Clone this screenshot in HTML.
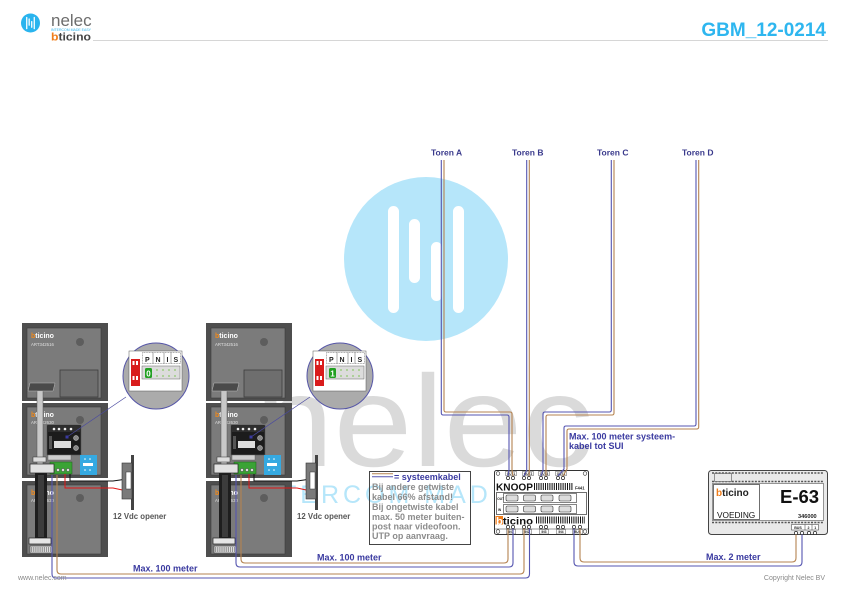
<!DOCTYPE html>
<html><head><meta charset="utf-8">
<style>
html,body{margin:0;padding:0;background:#fff;}
svg{display:block;}
text{font-family:"Liberation Sans",Arial,sans-serif;}
</style></head>
<body>
<svg width="841" height="595" viewBox="0 0 841 595" xmlns="http://www.w3.org/2000/svg">
<rect width="841" height="595" fill="#fff"/>

<!-- HEADER -->
<g transform="translate(30.5,23) scale(0.116)">
  <circle r="82" fill="#2ab4ee"/>
  <rect x="-38" y="-53" width="11" height="107" rx="5.5" fill="#fff"/>
  <rect x="-17" y="-40" width="11" height="64" rx="5.5" fill="#fff"/>
  <rect x="5" y="-17" width="11" height="59" rx="5.5" fill="#fff"/>
  <rect x="27" y="-53" width="11" height="107" rx="5.5" fill="#fff"/>
</g>
<text x="51" y="26" font-size="17" fill="#6d6d6d">nelec</text>
<text x="51" y="30.8" font-size="3.3" fill="#2ab4ee" textLength="40" lengthAdjust="spacingAndGlyphs">INTERCOM MADE EASY</text>
<text x="51" y="40.5" font-size="11" font-weight="bold" fill="#444" textLength="40" lengthAdjust="spacingAndGlyphs"><tspan fill="#f07d1a">b</tspan>ticino</text>
<line x1="93" y1="40.5" x2="828" y2="40.5" stroke="#d6d6d6" stroke-width="1"/>
<text x="826" y="36" font-size="19" font-weight="bold" fill="#2eb6ef" text-anchor="end">GBM_12-0214</text>

<!-- WATERMARK -->
<g transform="translate(426,259)">
  <circle r="82" fill="#b6e6fa"/>
  <rect x="-38" y="-53" width="11" height="107" rx="5.5" fill="#fff"/>
  <rect x="-17" y="-40" width="11" height="64" rx="5.5" fill="#fff"/>
  <rect x="5" y="-17" width="11" height="59" rx="5.5" fill="#fff"/>
  <rect x="27" y="-53" width="11" height="107" rx="5.5" fill="#fff"/>
</g>
<text x="255" y="466" font-size="130" fill="#dadada" textLength="338" lengthAdjust="spacingAndGlyphs">nelec</text>
<text x="248" y="503" font-size="25" fill="#b6e6fa" letter-spacing="4">INTERCOM MADE</text>

<!-- LEFT DEVICE -->
<g>
  <rect x="22" y="323" width="86" height="78" fill="#4e4e4e"/>
  <rect x="27" y="328" width="74" height="70" fill="#7b7b7b" stroke="#3c3c3c" stroke-width="0.6"/>
  <text x="31" y="338" font-size="7" font-weight="bold" fill="#fff"><tspan fill="#f08a1c">b</tspan>ticino</text>
  <text x="31" y="346" font-size="4.3" fill="#e0e0e0">ART342516</text>
  <circle cx="80" cy="342" r="4" fill="#5d5d5d"/>
  <rect x="60" y="370" width="38" height="27" fill="#6e6e6e" stroke="#3c3c3c" stroke-width="0.8"/>

  <rect x="22" y="403" width="86" height="75" fill="#4e4e4e"/>
  <rect x="27" y="407" width="74" height="68" fill="#7b7b7b" stroke="#3c3c3c" stroke-width="0.6"/>
  <text x="31" y="417" font-size="7" font-weight="bold" fill="#fff"><tspan fill="#f08a1c">b</tspan>ticino</text>
  <text x="31" y="424" font-size="4.3" fill="#e0e0e0">ART342630</text>
  <circle cx="80" cy="420" r="4" fill="#5d5d5d"/>
  <rect x="47" y="425" width="34" height="30" fill="#1c1c1c" stroke="#555" stroke-width="0.6"/>
  <rect x="48" y="426" width="32" height="6" fill="#2e2e2e"/>
  <circle cx="54" cy="429" r="1.3" fill="#eee"/><circle cx="59" cy="429" r="1.3" fill="#eee"/>
  <circle cx="65" cy="429" r="1.3" fill="#eee"/><circle cx="71" cy="429" r="1.3" fill="#eee"/>
  <rect x="49" y="436" width="3" height="13" fill="#555"/>
  <rect x="54" y="441" width="17" height="7" fill="#dedede"/>
  <circle cx="76" cy="438" r="2.5" fill="#888" stroke="#ccc" stroke-width="0.5"/>
  <circle cx="76" cy="448" r="2.5" fill="#888" stroke="#ccc" stroke-width="0.5"/>
  <rect x="48" y="455" width="23" height="5" fill="#cfcfcf" stroke="#555" stroke-width="0.4"/>
  <rect x="50" y="462" width="22" height="12" fill="#3aa335" stroke="#1d5e1a" stroke-width="0.5"/>
  <circle cx="53" cy="470" r="1.6" fill="#ddd" stroke="#222" stroke-width="0.4"/>
  <circle cx="58" cy="470" r="1.6" fill="#ddd" stroke="#222" stroke-width="0.4"/>
  <circle cx="63" cy="470" r="1.6" fill="#ddd" stroke="#222" stroke-width="0.4"/>
  <circle cx="68" cy="470" r="1.6" fill="#ddd" stroke="#222" stroke-width="0.4"/>
  <rect x="80" y="455" width="17" height="20" fill="#35a9e1"/>
  <rect x="83" y="463" width="10" height="3" fill="#fff"/>
  <circle cx="85" cy="459" r="0.8" fill="#fff"/><circle cx="90" cy="459" r="0.8" fill="#fff"/>
  <circle cx="85" cy="470" r="0.8" fill="#fff"/><circle cx="90" cy="470" r="0.8" fill="#fff"/>

  <rect x="22" y="481" width="86" height="76" fill="#4e4e4e"/>
  <rect x="27" y="485" width="74" height="69" fill="#7b7b7b" stroke="#3c3c3c" stroke-width="0.6"/>
  <text x="31" y="495" font-size="7" font-weight="bold" fill="#fff"><tspan fill="#f08a1c">b</tspan>ticino</text>
  <text x="31" y="502" font-size="4.3" fill="#e0e0e0">ART342630</text>
  <circle cx="80" cy="498" r="4" fill="#5d5d5d"/>

  <rect x="37" y="388" width="6" height="78" fill="#c8c8c8" stroke="#555" stroke-width="0.5"/>
  <polygon points="30,383 55,383 53,391 28,391" fill="#4a4a4a" stroke="#bbb" stroke-width="0.5"/>
  <rect x="33" y="457" width="13" height="5" fill="#ddd" stroke="#333" stroke-width="0.5"/>
  <rect x="35" y="473" width="12" height="66" fill="#1e1e1e"/>
  <rect x="38" y="475" width="6" height="62" fill="#3c3c3c"/>
  <rect x="30" y="464" width="24" height="9" fill="#e2e2e2" stroke="#222" stroke-width="0.7"/>
  <rect x="29" y="538" width="22" height="6" fill="#e6e6e6" stroke="#222" stroke-width="0.7"/>
  <rect x="30" y="546" width="22" height="7" fill="#ddd" stroke="#444" stroke-width="0.6"/>
  <line x1="31" y1="549.5" x2="51" y2="549.5" stroke="#777" stroke-width="5" stroke-dasharray="0.7 1.2"/>

  <path d="M70,474 V481 H113 L127,479" fill="none" stroke="#111" stroke-width="1"/>
  <path d="M65,474 V488 H113 L127,491" fill="none" stroke="#e01515" stroke-width="1"/>
  <rect x="131" y="455" width="3" height="55" fill="#444"/>
  <rect x="122" y="463" width="10" height="36" fill="#7a7a7a" stroke="#333" stroke-width="0.6"/>
  <rect x="126" y="472" width="5" height="17" fill="#fff" stroke="#333" stroke-width="0.5"/>
  <text x="113" y="519" font-size="7.8" font-weight="bold" fill="#555">12 Vdc opener</text>

  <line x1="126" y1="397" x2="67" y2="437" stroke="#4a4aa0" stroke-width="0.7"/>
  <rect x="65.5" y="435.5" width="3" height="3" fill="#3a3aa0"/>
  <circle cx="156" cy="376" r="33" fill="#ababab" stroke="#5656a8" stroke-width="1"/>
  <rect x="129" y="351" width="53" height="40" fill="#fff" stroke="#555" stroke-width="0.5"/>
  <rect x="131" y="359" width="9" height="27" fill="#d91c1c"/>
  <rect x="132.5" y="361" width="2" height="4" fill="#fff"/><rect x="136" y="361" width="2" height="4" fill="#fff"/>
  <rect x="132.5" y="376" width="2" height="4" fill="#fff"/><rect x="136" y="376" width="2" height="4" fill="#fff"/>
  <rect x="142.5" y="352.5" width="38" height="11" fill="#fff" stroke="#555" stroke-width="0.5" stroke-dasharray="1 0.6"/>
  <line x1="153" y1="352.5" x2="153" y2="363.5" stroke="#555" stroke-width="0.5"/>
  <line x1="164" y1="352.5" x2="164" y2="363.5" stroke="#555" stroke-width="0.5"/>
  <line x1="171" y1="352.5" x2="171" y2="363.5" stroke="#555" stroke-width="0.5"/>
  <text x="145" y="362" font-size="7" font-weight="bold" fill="#222">P</text>
  <text x="155.5" y="362" font-size="7" font-weight="bold" fill="#222">N</text>
  <text x="166.5" y="362" font-size="7" font-weight="bold" fill="#222">I</text>
  <text x="173.5" y="362" font-size="7" font-weight="bold" fill="#222">S</text>
  <rect x="142" y="366" width="38" height="13" fill="#dcdcdc" stroke="#666" stroke-width="0.5"/>
  <rect x="145" y="368" width="7" height="10" rx="1.5" fill="#22a022"/>
  <text x="148.5" y="376.5" font-size="8" font-weight="bold" fill="#fff" text-anchor="middle">0</text>
  <circle cx="157" cy="370" r="0.9" fill="#8cc86a"/><circle cx="163" cy="370" r="0.9" fill="#8cc86a"/>
  <circle cx="169" cy="370" r="0.9" fill="#8cc86a"/><circle cx="175" cy="370" r="0.9" fill="#8cc86a"/>
  <circle cx="157" cy="376" r="0.9" fill="#8cc86a"/><circle cx="163" cy="376" r="0.9" fill="#8cc86a"/>
  <circle cx="169" cy="376" r="0.9" fill="#8cc86a"/><circle cx="175" cy="376" r="0.9" fill="#8cc86a"/>
</g>

<!-- MIDDLE DEVICE -->
<g transform="translate(184,0)">
  <rect x="22" y="323" width="86" height="78" fill="#4e4e4e"/>
  <rect x="27" y="328" width="74" height="70" fill="#7b7b7b" stroke="#3c3c3c" stroke-width="0.6"/>
  <text x="31" y="338" font-size="7" font-weight="bold" fill="#fff"><tspan fill="#f08a1c">b</tspan>ticino</text>
  <text x="31" y="346" font-size="4.3" fill="#e0e0e0">ART342516</text>
  <circle cx="80" cy="342" r="4" fill="#5d5d5d"/>
  <rect x="60" y="370" width="38" height="27" fill="#6e6e6e" stroke="#3c3c3c" stroke-width="0.8"/>

  <rect x="22" y="403" width="86" height="75" fill="#4e4e4e"/>
  <rect x="27" y="407" width="74" height="68" fill="#7b7b7b" stroke="#3c3c3c" stroke-width="0.6"/>
  <text x="31" y="417" font-size="7" font-weight="bold" fill="#fff"><tspan fill="#f08a1c">b</tspan>ticino</text>
  <text x="31" y="424" font-size="4.3" fill="#e0e0e0">ART342630</text>
  <circle cx="80" cy="420" r="4" fill="#5d5d5d"/>
  <rect x="47" y="425" width="34" height="30" fill="#1c1c1c" stroke="#555" stroke-width="0.6"/>
  <rect x="48" y="426" width="32" height="6" fill="#2e2e2e"/>
  <circle cx="54" cy="429" r="1.3" fill="#eee"/><circle cx="59" cy="429" r="1.3" fill="#eee"/>
  <circle cx="65" cy="429" r="1.3" fill="#eee"/><circle cx="71" cy="429" r="1.3" fill="#eee"/>
  <rect x="49" y="436" width="3" height="13" fill="#555"/>
  <rect x="54" y="441" width="17" height="7" fill="#dedede"/>
  <circle cx="76" cy="438" r="2.5" fill="#888" stroke="#ccc" stroke-width="0.5"/>
  <circle cx="76" cy="448" r="2.5" fill="#888" stroke="#ccc" stroke-width="0.5"/>
  <rect x="48" y="455" width="23" height="5" fill="#cfcfcf" stroke="#555" stroke-width="0.4"/>
  <rect x="50" y="462" width="22" height="12" fill="#3aa335" stroke="#1d5e1a" stroke-width="0.5"/>
  <circle cx="53" cy="470" r="1.6" fill="#ddd" stroke="#222" stroke-width="0.4"/>
  <circle cx="58" cy="470" r="1.6" fill="#ddd" stroke="#222" stroke-width="0.4"/>
  <circle cx="63" cy="470" r="1.6" fill="#ddd" stroke="#222" stroke-width="0.4"/>
  <circle cx="68" cy="470" r="1.6" fill="#ddd" stroke="#222" stroke-width="0.4"/>
  <rect x="80" y="455" width="17" height="20" fill="#35a9e1"/>
  <rect x="83" y="463" width="10" height="3" fill="#fff"/>
  <circle cx="85" cy="459" r="0.8" fill="#fff"/><circle cx="90" cy="459" r="0.8" fill="#fff"/>
  <circle cx="85" cy="470" r="0.8" fill="#fff"/><circle cx="90" cy="470" r="0.8" fill="#fff"/>

  <rect x="22" y="481" width="86" height="76" fill="#4e4e4e"/>
  <rect x="27" y="485" width="74" height="69" fill="#7b7b7b" stroke="#3c3c3c" stroke-width="0.6"/>
  <text x="31" y="495" font-size="7" font-weight="bold" fill="#fff"><tspan fill="#f08a1c">b</tspan>ticino</text>
  <text x="31" y="502" font-size="4.3" fill="#e0e0e0">ART342630</text>
  <circle cx="80" cy="498" r="4" fill="#5d5d5d"/>

  <rect x="37" y="388" width="6" height="78" fill="#c8c8c8" stroke="#555" stroke-width="0.5"/>
  <polygon points="30,383 55,383 53,391 28,391" fill="#4a4a4a" stroke="#bbb" stroke-width="0.5"/>
  <rect x="33" y="457" width="13" height="5" fill="#ddd" stroke="#333" stroke-width="0.5"/>
  <rect x="35" y="473" width="12" height="66" fill="#1e1e1e"/>
  <rect x="38" y="475" width="6" height="62" fill="#3c3c3c"/>
  <rect x="30" y="464" width="24" height="9" fill="#e2e2e2" stroke="#222" stroke-width="0.7"/>
  <rect x="29" y="538" width="22" height="6" fill="#e6e6e6" stroke="#222" stroke-width="0.7"/>
  <rect x="30" y="546" width="22" height="7" fill="#ddd" stroke="#444" stroke-width="0.6"/>
  <line x1="31" y1="549.5" x2="51" y2="549.5" stroke="#777" stroke-width="5" stroke-dasharray="0.7 1.2"/>

  <path d="M70,474 V481 H113 L127,479" fill="none" stroke="#111" stroke-width="1"/>
  <path d="M65,474 V488 H113 L127,491" fill="none" stroke="#e01515" stroke-width="1"/>
  <rect x="131" y="455" width="3" height="55" fill="#444"/>
  <rect x="122" y="463" width="10" height="36" fill="#7a7a7a" stroke="#333" stroke-width="0.6"/>
  <rect x="126" y="472" width="5" height="17" fill="#fff" stroke="#333" stroke-width="0.5"/>
  <text x="113" y="519" font-size="7.8" font-weight="bold" fill="#555">12 Vdc opener</text>

  <line x1="126" y1="397" x2="67" y2="437" stroke="#4a4aa0" stroke-width="0.7"/>
  <rect x="65.5" y="435.5" width="3" height="3" fill="#3a3aa0"/>
  <circle cx="156" cy="376" r="33" fill="#ababab" stroke="#5656a8" stroke-width="1"/>
  <rect x="129" y="351" width="53" height="40" fill="#fff" stroke="#555" stroke-width="0.5"/>
  <rect x="131" y="359" width="9" height="27" fill="#d91c1c"/>
  <rect x="132.5" y="361" width="2" height="4" fill="#fff"/><rect x="136" y="361" width="2" height="4" fill="#fff"/>
  <rect x="132.5" y="376" width="2" height="4" fill="#fff"/><rect x="136" y="376" width="2" height="4" fill="#fff"/>
  <rect x="142.5" y="352.5" width="38" height="11" fill="#fff" stroke="#555" stroke-width="0.5" stroke-dasharray="1 0.6"/>
  <line x1="153" y1="352.5" x2="153" y2="363.5" stroke="#555" stroke-width="0.5"/>
  <line x1="164" y1="352.5" x2="164" y2="363.5" stroke="#555" stroke-width="0.5"/>
  <line x1="171" y1="352.5" x2="171" y2="363.5" stroke="#555" stroke-width="0.5"/>
  <text x="145" y="362" font-size="7" font-weight="bold" fill="#222">P</text>
  <text x="155.5" y="362" font-size="7" font-weight="bold" fill="#222">N</text>
  <text x="166.5" y="362" font-size="7" font-weight="bold" fill="#222">I</text>
  <text x="173.5" y="362" font-size="7" font-weight="bold" fill="#222">S</text>
  <rect x="142" y="366" width="38" height="13" fill="#dcdcdc" stroke="#666" stroke-width="0.5"/>
  <rect x="145" y="368" width="7" height="10" rx="1.5" fill="#22a022"/>
  <text x="148.5" y="376.5" font-size="8" font-weight="bold" fill="#fff" text-anchor="middle">1</text>
  <circle cx="157" cy="370" r="0.9" fill="#8cc86a"/><circle cx="163" cy="370" r="0.9" fill="#8cc86a"/>
  <circle cx="169" cy="370" r="0.9" fill="#8cc86a"/><circle cx="175" cy="370" r="0.9" fill="#8cc86a"/>
  <circle cx="157" cy="376" r="0.9" fill="#8cc86a"/><circle cx="163" cy="376" r="0.9" fill="#8cc86a"/>
  <circle cx="169" cy="376" r="0.9" fill="#8cc86a"/><circle cx="175" cy="376" r="0.9" fill="#8cc86a"/>
</g>

<!-- KNOOP -->
<g>
  <rect x="494.5" y="470.5" width="94" height="64" rx="2" fill="#fff" stroke="#333" stroke-width="1"/>
  <circle cx="498" cy="473.5" r="1.8" fill="#fff" stroke="#333" stroke-width="0.6"/>
  <circle cx="585" cy="473.5" r="1.8" fill="#fff" stroke="#333" stroke-width="0.6"/>
  <g font-size="3.2" font-weight="bold" fill="#222" text-anchor="middle">
    <rect x="505.5" y="471.5" width="11" height="4" fill="#fff" stroke="#333" stroke-width="0.4"/><text x="511" y="474.8">OUT1</text>
    <rect x="522.5" y="471.5" width="11" height="4" fill="#fff" stroke="#333" stroke-width="0.4"/><text x="528" y="474.8">OUT2</text>
    <rect x="538.5" y="471.5" width="11" height="4" fill="#fff" stroke="#333" stroke-width="0.4"/><text x="544" y="474.8">OUT3</text>
    <rect x="555.5" y="471.5" width="11" height="4" fill="#fff" stroke="#333" stroke-width="0.4"/><text x="561" y="474.8">OUT4</text>
  </g>
  <g fill="#fff" stroke="#222" stroke-width="0.7">
    <circle cx="508" cy="478" r="1.6"/><circle cx="513" cy="478" r="1.6"/>
    <circle cx="524" cy="478" r="1.6"/><circle cx="529" cy="478" r="1.6"/>
    <circle cx="541" cy="478" r="1.6"/><circle cx="546" cy="478" r="1.6"/>
    <circle cx="558" cy="478" r="1.6"/><circle cx="563" cy="478" r="1.6"/>
  </g>
  <text x="496" y="490.5" font-size="10.5" font-weight="bold" fill="#111" textLength="37" lengthAdjust="spacingAndGlyphs">KNOOP</text>
  <line x1="534" y1="486.5" x2="573" y2="486.5" stroke="#111" stroke-width="7" stroke-dasharray="1 1.2"/>
  <text x="575" y="489.5" font-size="4.2" font-weight="bold" fill="#222">F441</text>
  <rect x="496.5" y="492.5" width="90" height="22" fill="#fff" stroke="#333" stroke-width="0.7"/>
  <rect x="503.5" y="493.5" width="73" height="9" fill="#fff" stroke="#333" stroke-width="0.6"/>
  <rect x="503.5" y="504.5" width="73" height="9" fill="#fff" stroke="#333" stroke-width="0.6"/>
  <text x="497.3" y="499.8" font-size="3.2" font-weight="bold" fill="#222">OUT</text>
  <text x="498" y="510.8" font-size="3.2" font-weight="bold" fill="#222">IN</text>
  <g fill="#ddd" stroke="#333" stroke-width="0.6">
    <rect x="506" y="495" width="12" height="6" rx="1.5"/><rect x="523.5" y="495" width="12" height="6" rx="1.5"/>
    <rect x="541" y="495" width="12" height="6" rx="1.5"/><rect x="559" y="495" width="12" height="6" rx="1.5"/>
    <rect x="506" y="506" width="12" height="6" rx="1.5"/><rect x="523.5" y="506" width="12" height="6" rx="1.5"/>
    <rect x="541" y="506" width="12" height="6" rx="1.5"/><rect x="559" y="506" width="12" height="6" rx="1.5"/>
  </g>
  <rect x="495.5" y="516" width="7.5" height="8.5" fill="#f07d1a"/>
  <text x="496" y="524.5" font-size="10.5" font-weight="bold" fill="#111" textLength="37" lengthAdjust="spacingAndGlyphs"><tspan fill="#fff">b</tspan>ticino</text>
  <line x1="536" y1="520" x2="585" y2="520" stroke="#111" stroke-width="7" stroke-dasharray="1 1.2"/>
  <g fill="#fff" stroke="#222" stroke-width="0.7">
    <circle cx="508" cy="527" r="1.6"/><circle cx="513" cy="527" r="1.6"/>
    <circle cx="524" cy="527" r="1.6"/><circle cx="529" cy="527" r="1.6"/>
    <circle cx="541" cy="527" r="1.6"/><circle cx="546" cy="527" r="1.6"/>
    <circle cx="558" cy="527" r="1.6"/><circle cx="563" cy="527" r="1.6"/>
    <circle cx="574" cy="527" r="1.6"/><circle cx="580" cy="527" r="1.6"/>
  </g>
  <line x1="494.5" y1="529" x2="588.5" y2="529" stroke="#333" stroke-width="0.6"/>
  <circle cx="498" cy="531.5" r="1.8" fill="#fff" stroke="#333" stroke-width="0.6"/>
  <circle cx="585" cy="531.5" r="1.8" fill="#fff" stroke="#333" stroke-width="0.6"/>
  <g font-size="3.2" font-weight="bold" fill="#222" text-anchor="middle">
    <rect x="506.5" y="529.5" width="9" height="4.5" fill="#fff" stroke="#333" stroke-width="0.4"/><text x="511" y="533.2">IN1</text>
    <rect x="522.5" y="529.5" width="9" height="4.5" fill="#fff" stroke="#333" stroke-width="0.4"/><text x="527" y="533.2">IN2</text>
    <rect x="539.5" y="529.5" width="9" height="4.5" fill="#fff" stroke="#333" stroke-width="0.4"/><text x="544" y="533.2">IN3</text>
    <rect x="556.5" y="529.5" width="9" height="4.5" fill="#fff" stroke="#333" stroke-width="0.4"/><text x="561" y="533.2">IN4</text>
    <rect x="572.5" y="529.5" width="10" height="4.5" fill="#fff" stroke="#333" stroke-width="0.4"/><text x="577.5" y="533.2">BUS</text>
  </g>
</g>

<!-- E-63 -->
<g>
  <rect x="708.5" y="470.5" width="119" height="64" rx="3" fill="#e9e9e9" stroke="#444" stroke-width="1"/>
  <line x1="712" y1="473" x2="824" y2="473" stroke="#555" stroke-width="1.4" stroke-dasharray="2 1.3"/>
  <line x1="712" y1="481.5" x2="824" y2="481.5" stroke="#555" stroke-width="1.4" stroke-dasharray="2 1.3"/>
  <rect x="714.5" y="473.5" width="17" height="8" fill="#e9e9e9" stroke="#555" stroke-width="0.6"/>
  <rect x="712.5" y="483.5" width="111" height="37" fill="#fff" stroke="#555" stroke-width="0.6"/>
  <rect x="713.5" y="484.5" width="46" height="35" fill="none" stroke="#333" stroke-width="0.7"/>
  <text x="716" y="496" font-size="10" font-weight="bold" fill="#222"><tspan fill="#f07d1a">b</tspan>ticino</text>
  <text x="717" y="518" font-size="8.3" fill="#111">VOEDING</text>
  <text x="780" y="503" font-size="18.5" font-weight="bold" fill="#111">E-63</text>
  <text x="798" y="518" font-size="5.6" font-weight="bold" fill="#222">346000</text>
  <line x1="712" y1="522.5" x2="824" y2="522.5" stroke="#555" stroke-width="1.4" stroke-dasharray="2 1.3"/>
  <rect x="791.5" y="524.5" width="27" height="5.5" fill="#fff" stroke="#333" stroke-width="0.5"/>
  <line x1="805" y1="524.5" x2="805" y2="530" stroke="#333" stroke-width="0.5"/>
  <line x1="812" y1="524.5" x2="812" y2="530" stroke="#333" stroke-width="0.5"/>
  <text x="798" y="528.8" font-size="3.6" font-weight="bold" fill="#222" text-anchor="middle">BUS</text>
  <text x="808.5" y="528.8" font-size="3.6" font-weight="bold" fill="#222" text-anchor="middle">2</text>
  <text x="815.2" y="528.8" font-size="3.6" font-weight="bold" fill="#222" text-anchor="middle">1</text>
  <g fill="#fff" stroke="#222" stroke-width="0.7">
    <circle cx="796" cy="533" r="1.6"/><circle cx="802" cy="533" r="1.6"/>
    <circle cx="809" cy="533" r="1.6"/><circle cx="815" cy="533" r="1.6"/>
  </g>
</g>

<!-- LEGEND -->
<rect x="369.5" y="471.5" width="101" height="73" fill="none" stroke="#444" stroke-width="1"/>
<line x1="372" y1="473.8" x2="393" y2="473.8" stroke="#b58350" stroke-width="1"/>
<line x1="372" y1="476.8" x2="393" y2="476.8" stroke="#5555b0" stroke-width="1"/>
<text x="394" y="480" font-size="9" font-weight="bold" fill="#3a3aa0">= systeemkabel</text>
<g font-size="9" font-weight="bold" fill="#8c8c8c">
  <text x="372" y="490">Bij andere getwiste</text>
  <text x="372" y="500">kabel 66% afstand!</text>
  <text x="372" y="510">Bij ongetwiste kabel</text>
  <text x="372" y="520">max. 50 meter buiten-</text>
  <text x="372" y="529.5">post naar videofoon.</text>
  <text x="372" y="539">UTP op aanvraag.</text>
</g>

<!-- WIRES -->
<g fill="none" stroke-width="1.1">
  <path d="M441.3,160 V413 Q441.3,415 443.3,415 H507 Q509,415 509,417 V470 L508,476" stroke="#5555b0"/>
  <path d="M444,160 V410 Q444,412 446,412 H510 Q512,412 512,414 V470 L513,476" stroke="#b58350"/>
  <path d="M526.7,160 V470 L524,476" stroke="#5555b0"/>
  <path d="M529.3,160 V470 L529,476" stroke="#b58350"/>
  <path d="M611.3,160 V410 Q611.3,412 609.3,412 H545 Q543,412 543,414 V470 L541,476" stroke="#5555b0"/>
  <path d="M614,160 V413 Q614,415 612,415 H548 Q546,415 546,417 V470 L546,476" stroke="#b58350"/>
  <path d="M696,160 V424 Q696,426 694,426 H566 Q564,426 564,428 V469 L558,476" stroke="#5555b0"/>
  <path d="M698.7,160 V427 Q698.7,429 696.7,429 H569 Q567,429 567,431 V469 L563,476" stroke="#b58350"/>

  <path d="M52,475 V574 Q52,578 56,578 H525.5 Q529.5,578 529.5,574 V528.5" stroke="#5555b0"/>
  <path d="M57,475 V570 Q57,574 61,574 H520 Q524,574 524,570 V528.5" stroke="#b58350"/>
  <path d="M236,475 V563 Q236,567 240,567 H509 Q513,567 513,563 V528.5" stroke="#5555b0"/>
  <path d="M241,475 V559 Q241,563 245,563 H504 Q508,563 508,559 V528.5" stroke="#b58350"/>
  <path d="M574,528.5 V562 Q574,566 578,566 H798 Q802,566 802,562 V534.5" stroke="#5555b0"/>
  <path d="M580,528.5 V558 Q580,562 584,562 H792 Q796,562 796,558 V534.5" stroke="#b58350"/>
</g>

<!-- LABELS -->
<g font-size="8.5" font-weight="bold" fill="#3a3a8c">
  <text x="431" y="155.5">Toren A</text>
  <text x="512" y="155.5">Toren B</text>
  <text x="597" y="155.5">Toren C</text>
  <text x="682" y="155.5">Toren D</text>
</g>
<g font-size="9" font-weight="bold" fill="#3a3aa0">
  <text x="569" y="439.5">Max. 100 meter systeem-</text>
  <text x="569" y="449">kabel tot SUI</text>
  <text x="317" y="560.5">Max. 100 meter</text>
  <text x="133" y="571.5">Max. 100 meter</text>
  <text x="706" y="560">Max. 2 meter</text>
</g>
<text x="18" y="580" font-size="7" fill="#8a8a8a">www.nelec.com</text>
<text x="825" y="580" font-size="7" fill="#8a8a8a" text-anchor="end">Copyright Nelec BV</text>
</svg>
</body></html>
